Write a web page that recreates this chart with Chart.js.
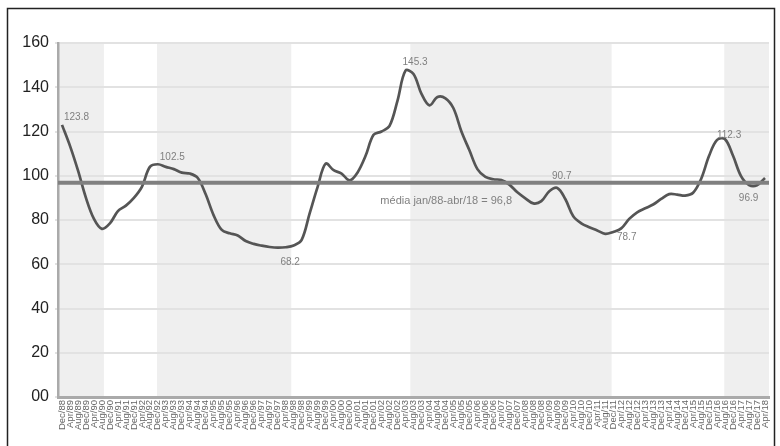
<!DOCTYPE html>
<html><head><meta charset="utf-8">
<script src="https://cdn.jsdelivr.net/npm/chart.js@4/dist/chart.umd.min.js"></script>
<style>html,body{margin:0;padding:0;background:#fff;}#wrap{position:absolute;left:0;top:0;width:780px;height:446px;}</style>
</head><body><div id="wrap"><canvas id="c" width="780" height="446"></canvas></div>
<script>
const categories = ["Dec/88","Apr/89","Aug/89","Dec/89","Apr/90","Aug/90","Dec/90","Apr/91","Aug/91","Dec/91","Apr/92","Aug/92","Dec/92","Apr/93","Aug/93","Dec/93","Apr/94","Aug/94","Dec/94","Apr/95","Aug/95","Dec/95","Apr/96","Aug/96","Dec/96","Apr/97","Aug/97","Dec/97","Apr/98","Aug/98","Dec/98","Apr/99","Aug/99","Dec/99","Apr/00","Aug/00","Dec/00","Apr/01","Aug/01","Dec/01","Apr/02","Aug/02","Dec/02","Apr/03","Aug/03","Dec/03","Apr/04","Aug/04","Dec/04","Apr/05","Aug/05","Dec/05","Apr/06","Aug/06","Dec/06","Apr/07","Aug/07","Dec/07","Apr/08","Aug/08","Dec/08","Apr/09","Aug/09","Dec/09","Apr/10","Aug/10","Dec/10","Apr/11","Aug/11","Dec/11","Apr/12","Aug/12","Dec/12","Apr/13","Aug/13","Dec/13","Apr/14","Aug/14","Dec/14","Apr/15","Aug/15","Dec/15","Apr/16","Aug/16","Dec/16","Apr/17","Aug/17","Dec/17","Apr/18"];
const values = [123,113.5,102.4,90,80.5,76,78.5,84,86.5,90,95,104,105.2,104,103,101.4,101,99,91.5,82,75.5,74,73,70.5,69.2,68.4,67.8,67.5,67.7,68.5,71,83,95,105.5,102.5,101,97.9,101.5,109,118.5,120,122.5,134,147.5,146,137,131.8,135.6,135,130.5,120,111.5,103,99.5,98.4,98.1,96,92.5,89.8,87.5,88.5,93,94.5,89.5,81.7,78.5,76.7,75.3,73.7,74.6,76.2,80.5,83.5,85.3,87,89.5,91.7,91.5,91,92.3,98.5,109,116.2,116.5,109,99.8,95.8,95.7,99];
const yTickLabels = ["00","20","40","60","80","100","120","140","160"];
const meanValue = 96.8;
const meanLabel = "média jan/88-abr/18 = 96,8";
const bandStarts = [0, 12.4, 44.1, 83.4];
const bandEnds = [5.75, 29.2, 69.3, 89];
const noteTexts = ["123.8","102.5","145.3","68.2","90.7","78.7","112.3","96.9"];
const noteX = [1.81, 13.81, 44.19, 28.56, 62.56, 70.69, 83.5, 85.94];
const noteY = [126.6, 108.2, 151.1, 61.0, 100.0, 72.0, 118.4, 90.0];
const meanLabelX = 48.1, meanLabelY = 88.5;

const deco = {
  id: 'deco',
  beforeDraw(chart) {
    const {ctx, chartArea: a, scales: {x}} = chart;
    ctx.save();
    ctx.fillStyle = '#efefef';
    for (let i = 0; i < bandStarts.length; i++) {
      const l = Math.max(a.left, x.getPixelForValue(bandStarts[i] - 0.5));
      const r = Math.min(a.right, x.getPixelForValue(bandEnds[i] - 0.5));
      ctx.fillRect(l, a.top, r - l, a.bottom - a.top);
    }
    ctx.restore();
  },
  afterDatasetsDraw(chart) {
    const {ctx, chartArea: a, scales: {x, y}} = chart;
    ctx.save();
    const my = y.getPixelForValue(meanValue);
    ctx.strokeStyle = '#808080';
    ctx.lineWidth = 4;
    ctx.beginPath(); ctx.moveTo(a.left, my); ctx.lineTo(a.right, my); ctx.stroke();
    ctx.fillStyle = '#808080';
    ctx.textAlign = 'center'; ctx.textBaseline = 'middle';
    ctx.font = '10px "Liberation Sans", Arial, sans-serif';
    for (let i = 0; i < noteTexts.length; i++) {
      ctx.fillText(noteTexts[i], x.getPixelForValue(noteX[i]), y.getPixelForValue(noteY[i]));
    }
    ctx.font = '11px "Liberation Sans", Arial, sans-serif';
    ctx.fillText(meanLabel, x.getPixelForValue(meanLabelX), y.getPixelForValue(meanLabelY));
    ctx.restore();
  },
  afterDraw(chart) {
    const ctx = chart.ctx;
    ctx.save();
    ctx.strokeStyle = '#222';
    ctx.lineWidth = 1.5;
    ctx.strokeRect(7.5, 8.5, 767, 440);
    ctx.restore();
  }
};

new Chart(document.getElementById('c'), {
  type: 'line',
  data: {
    labels: categories,
    datasets: [{
      data: values,
      borderColor: '#555555',
      borderWidth: 2.7,
      pointRadius: 0,
      tension: 0.35,
      fill: false
    }]
  },
  options: {
    responsive: false,
    animation: false,
    layout: { padding: { left: 10, right: 11, top: 43, bottom: 0 } },
    plugins: { legend: { display: false }, tooltip: { enabled: false } },
    scales: {
      x: {
        offset: true,
        grid: { drawOnChartArea: false, drawTicks: true, tickLength: 2, tickWidth: 5, tickColor: '#aaaaaa', offset: false },
        border: { display: true, color: '#aaaaaa', width: 3 },
        ticks: { autoSkip: false, minRotation: 90, maxRotation: 90, padding: 1, color: '#666', font: { family: '"Liberation Sans", Arial, sans-serif', size: 9.5 } },
        afterFit(s) { s.height = 49; }
      },
      y: {
        min: 0, max: 160,
        ticks: { stepSize: 20, padding: 6, color: '#222', font: { family: '"Liberation Sans", Arial, sans-serif', size: 16 },
          callback: (v, i) => yTickLabels[i] },
        grid: { color: '#e2e2e2', lineWidth: 2, tickLength: 3, tickColor: '#e2e2e2' },
        border: { display: true, color: '#aaaaaa', width: 2.5 },
        afterFit(s) { s.width = 48; }
      }
    }
  },
  plugins: [deco]
});
</script></body></html>
